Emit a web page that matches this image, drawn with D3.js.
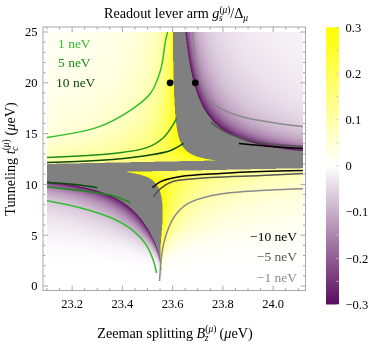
<!DOCTYPE html>
<html>
<head>
<meta charset="utf-8">
<script src="https://cdn.jsdelivr.net/npm/d3@7"></script>
<style>
  body { margin: 0; background: #fff; }
  #app { position: relative; width: 374px; height: 344px; }
  #app canvas, #app svg { position: absolute; left: 0; top: 0; }
</style>
</head>
<body>
<div id="app"></div>
<script>
/*global d3*/

// axis ranges and ticks (μeV)
const bzRange = [23.1, 24.12];
const tcRange = [0, 25];
const xTicks = [23.2, 23.4, 23.6, 23.8, 24.0];
const yTicks = [0, 5, 10, 15, 20, 25];
const barTicks = [-0.3, -0.2, -0.1, 0, 0.1, 0.2, 0.3];

const resonator = [23.595];        // vertical resonance at tc -> large
const spinOrbit = [0.9];           // anticrossing gap at 2 tc = Bz
const chargeCoupling = [0.22, 5.5]; // amplitude, turn-on tunneling
const clipLevel = [0.3];
const mixLimit = [0.52];

// contour lines (Bz, tc)
const posTop1 = [[23.1,14.62],[23.3,15.61],[23.432,17.29],[23.512,18.97],[23.552,21.25],[23.572,24.2],[23.58,25]];
const posTop5 = [[23.1,12.65],[23.364,13.04],[23.5,13.64],[23.564,14.62],[23.6,15.81],[23.616,16.5]];
const posTop10 = [[23.1,12.15],[23.3,12.35],[23.5,12.85],[23.592,13.34],[23.644,14.03]];
const posBot1 = [[23.1,8.4],[23.232,7.71],[23.364,6.62],[23.444,5.43],[23.492,4.15],[23.524,2.47],[23.536,1.28]];
const posBot5 = [[23.1,9.78],[23.232,9.39],[23.364,8.89],[23.432,8.2]];
const posBot10 = [[23.1,10.18],[23.212,9.98],[23.3,9.68]];
const negTop1 = [[23.68,25],[23.7,21.25],[23.732,18.97],[23.784,17.59],[23.884,16.6],[24.02,16.0],[24.12,15.7]];
const negTop5 = [[23.752,16.1],[23.82,15.02],[23.952,14.13],[24.12,13.74]];
const negTop10 = [[23.864,14.03],[23.992,13.74],[24.12,13.54]];
const negBot1 = [[23.548,0.5],[23.564,4.15],[23.604,6.72],[23.66,8.1],[23.752,8.89],[23.884,9.29],[24.12,9.58]];
const negBot5 = [[23.524,8.79],[23.552,9.58],[23.6,10.28],[23.752,10.67],[23.952,10.87],[24.12,11.07]];
const negBot10 = [[23.52,9.68],[23.552,10.28],[23.632,10.77],[23.792,11.07],[23.952,11.26],[24.12,11.36]];

const posLabels = ["1 neV", "5 neV", "10 neV"];
const negLabels = ["\u221210 neV", "\u22125 neV", "\u22121 neV"];

// the two marked points
const markers = [[23.59, 20], [23.69, 20]];

(() => {
  const W = 374, H = 344;
  const serif = "'Liberation Serif', 'Times New Roman', serif";

  const x = d3.scaleLinear().domain(bzRange).range([47, 303.3]);
  const y = d3.scaleLinear().domain(tcRange).range([286, 32]);
  const frame = {x0: 43, x1: 305.5, y0: 27, y1: 290.5};

  const color = d3.scaleLinear()
    .domain([-0.3, 0, 0.3])
    .range(["#5a0c5e", "#ffffff", "#ffff00"])
    .clamp(true);

  // lever arm of the spin-like branch
  function lever(bz, tc) {
    const g = spinOrbit[0];
    const d = (bz - 2 * tc) / 2;
    const s = d >= 0 ? 1 : -1;
    const shift = Math.hypot(d, g) - Math.abs(d);
    const eq = bz + s * shift;
    const m = shift / g;
    const vb = s * m / Math.sqrt(1 + m * m);
    const t4 = Math.pow(tc, 4);
    const gc = chargeCoupling[0] * t4 / (t4 + Math.pow(chargeCoupling[1], 4));
    const f = -gc * vb / (resonator[0] - eq);
    return {f, vb};
  }

  const app = d3.select('#app');

  // density plot on a canvas
  const canvas = app.append('canvas').attr('width', W).attr('height', H).node();
  const ctx = canvas.getContext('2d');
  const px0 = Math.round(x(bzRange[0])), px1 = Math.round(x(bzRange[1]));
  const py0 = Math.round(y(tcRange[1])), py1 = Math.round(y(tcRange[0]));
  const img = ctx.createImageData(px1 - px0, py1 - py0);
  const sub = [0.25, 0.75];
  for (let j = 0; j < py1 - py0; j++) {
    for (let i = 0; i < px1 - px0; i++) {
      let r = 0, gg = 0, b = 0;
      for (const sx of sub) for (const sy of sub) {
        const v = lever(x.invert(px0 + i + sx), y.invert(py0 + j + sy));
        let c;
        if (!isFinite(v.f) || Math.abs(v.f) > clipLevel[0] || Math.abs(v.vb) > mixLimit[0]) c = {r: 128, g: 128, b: 128};
        else c = d3.rgb(color(v.f));
        r += c.r; gg += c.g; b += c.b;
      }
      const k = 4 * (j * (px1 - px0) + i);
      img.data[k] = r / 4; img.data[k + 1] = gg / 4; img.data[k + 2] = b / 4; img.data[k + 3] = 255;
    }
  }
  ctx.putImageData(img, px0, py0);

  const svg = app.append('svg').attr('width', W).attr('height', H)
    .style('font-family', serif);

  svg.append('clipPath').attr('id', 'plotclip')
    .append('rect').attr('x', px0).attr('y', py0).attr('width', px1 - px0).attr('height', py1 - py0);

  // contour lines
  const line = d3.line().x(d => x(d[0])).y(d => y(d[1])).curve(d3.curveCatmullRom);
  const lines = [
    [posTop1, '#2fbf2f'], [posTop5, '#1a8c1a'], [posTop10, '#0b4a0b'],
    [posBot1, '#2fbf2f'], [posBot5, '#1a8c1a'], [posBot10, '#0b4a0b'],
    [negTop1, '#8a8a8a'], [negTop5, '#555555'], [negTop10, '#000000'],
    [negBot1, '#8a8a8a'], [negBot5, '#555555'], [negBot10, '#000000']
  ];
  svg.append('g').attr('clip-path', 'url(#plotclip)')
    .selectAll('path').data(lines).join('path')
    .attr('d', d => line(d[0]))
    .attr('fill', 'none')
    .attr('stroke', d => d[1])
    .attr('stroke-width', 1.5);

  svg.append('g').selectAll('circle').data(markers).join('circle')
    .attr('cx', d => x(d[0])).attr('cy', d => y(d[1])).attr('r', 3.4).attr('fill', '#000');

  // contour labels
  svg.append('g').selectAll('text').data(posLabels).join('text')
    .attr('x', (d, i) => i == 2 ? 56 : 58)
    .attr('y', (d, i) => 47.5 + i * 19.5)
    .attr('font-size', 13.5)
    .attr('fill', (d, i) => ['#2fbf2f', '#1a8c1a', '#0b4a0b'][i])
    .text(d => d);
  svg.append('g').selectAll('text').data(negLabels).join('text')
    .attr('x', 297)
    .attr('y', (d, i) => 240.5 + i * 20.5)
    .attr('text-anchor', 'end')
    .attr('font-size', 13.5)
    .attr('fill', (d, i) => ['#000', '#555', '#8a8a8a'][i])
    .text(d => d);

  // frame + ticks on all sides
  svg.append('rect')
    .attr('x', frame.x0).attr('y', frame.y0)
    .attr('width', frame.x1 - frame.x0).attr('height', frame.y1 - frame.y0)
    .attr('fill', 'none').attr('stroke', '#a8a8a8').attr('stroke-width', 1);

  const xMinor = d3.range(23.1, 24.11, 0.05);
  const yMinor = d3.range(0, 25.01, 1);
  const tk = svg.append('g').attr('stroke', '#a8a8a8').attr('stroke-width', 1);
  xMinor.forEach(v => {
    const major = xTicks.some(t => Math.abs(t - v) < 1e-6);
    const L = major ? 5 : 2.5;
    tk.append('line').attr('x1', x(v)).attr('x2', x(v)).attr('y1', frame.y1).attr('y2', frame.y1 - L);
    tk.append('line').attr('x1', x(v)).attr('x2', x(v)).attr('y1', frame.y0).attr('y2', frame.y0 + L);
  });
  yMinor.forEach(v => {
    const L = v % 5 == 0 ? 5 : 2.5;
    tk.append('line').attr('y1', y(v)).attr('y2', y(v)).attr('x1', frame.x0).attr('x2', frame.x0 + L);
    tk.append('line').attr('y1', y(v)).attr('y2', y(v)).attr('x1', frame.x1).attr('x2', frame.x1 - L);
  });

  svg.append('g').selectAll('text').data(xTicks).join('text')
    .attr('x', d => x(d)).attr('y', 308.3)
    .attr('text-anchor', 'middle').attr('font-size', 12.5)
    .text(d => d3.format('.1f')(d));
  svg.append('g').selectAll('text').data(yTicks).join('text')
    .attr('x', 37.5).attr('y', d => y(d) + 4.3)
    .attr('text-anchor', 'end').attr('font-size', 12.5)
    .text(d => d);

  // title and axis labels
  const title = svg.append('text').attr('x', 176).attr('y', 18)
    .attr('text-anchor', 'middle').attr('font-size', 14.2);
  title.append('tspan').text('Readout lever arm ');
  title.append('tspan').attr('font-style', 'italic').text('g');
  title.append('tspan').attr('font-size', 9.5).attr('dy', -5.5).text('(');
  title.append('tspan').attr('font-size', 9.5).attr('font-style', 'italic').text('\u03bc');
  title.append('tspan').attr('font-size', 9.5).text(')');
  title.append('tspan').attr('font-size', 9.5).attr('font-style', 'italic').attr('dx', -11.5).attr('dy', 8.5).text('s');
  title.append('tspan').attr('dx', 7.5).attr('dy', -3).text('/\u0394');
  title.append('tspan').attr('font-size', 9.5).attr('font-style', 'italic').attr('dy', 3).text('\u03bc');

  const xl = svg.append('text').attr('x', 175).attr('y', 337.5)
    .attr('text-anchor', 'middle').attr('font-size', 14.2);
  xl.append('tspan').text('Zeeman splitting ');
  xl.append('tspan').attr('font-style', 'italic').text('B');
  xl.append('tspan').attr('font-size', 9.5).attr('dy', -5.5).text('(');
  xl.append('tspan').attr('font-size', 9.5).attr('font-style', 'italic').text('\u03bc');
  xl.append('tspan').attr('font-size', 9.5).text(')');
  xl.append('tspan').attr('font-size', 9.5).attr('font-style', 'italic').attr('dx', -11.5).attr('dy', 8.5).text('z');
  xl.append('tspan').attr('dx', 7.5).attr('dy', -3).text(' (');
  xl.append('tspan').attr('font-style', 'italic').text('\u03bc');
  xl.append('tspan').text('eV)');

  const yl = svg.append('text').attr('transform', 'translate(14.5,159) rotate(-90)')
    .attr('text-anchor', 'middle').attr('font-size', 14.2);
  yl.append('tspan').text('Tunneling ');
  yl.append('tspan').attr('font-style', 'italic').text('t');
  yl.append('tspan').attr('font-size', 9.5).attr('dy', -5.5).text('(');
  yl.append('tspan').attr('font-size', 9.5).attr('font-style', 'italic').text('\u03bc');
  yl.append('tspan').attr('font-size', 9.5).text(')');
  yl.append('tspan').attr('font-size', 9.5).attr('font-style', 'italic').attr('dx', -11.5).attr('dy', 8.5).text('c');
  yl.append('tspan').attr('dx', 7.5).attr('dy', -3).text(' (');
  yl.append('tspan').attr('font-style', 'italic').text('\u03bc');
  yl.append('tspan').text('eV)');

  // colour bar
  const cb = d3.scaleLinear().domain([-0.3, 0.3]).range([304.5, 27.3]);
  const grad = svg.append('defs').append('linearGradient').attr('id', 'cbgrad')
    .attr('x1', 0).attr('y1', 1).attr('x2', 0).attr('y2', 0);
  grad.selectAll('stop').data(barTicks).join('stop')
    .attr('offset', d => (d + 0.3) / 0.6)
    .attr('stop-color', d => color(d));
  svg.append('rect').attr('x', 326).attr('y', cb(0.3)).attr('width', 13)
    .attr('height', cb(-0.3) - cb(0.3)).attr('fill', 'url(#cbgrad)');
  svg.append('g').selectAll('line').data(d3.range(-0.3, 0.301, 0.05)).join('line')
    .attr('x1', 336).attr('x2', 339).attr('y1', d => cb(d)).attr('y2', d => cb(d))
    .attr('stroke', '#cccccc').attr('stroke-width', 0.7);
  svg.append('g').selectAll('text').data(barTicks).join('text')
    .attr('x', 345.5).attr('y', d => cb(d) + 4.3)
    .attr('font-size', 12.5)
    .text(d => d == 0 ? '0' : d3.format('.1f')(d).replace('-', '\u2212'));
})();
</script>
</body>
</html>
